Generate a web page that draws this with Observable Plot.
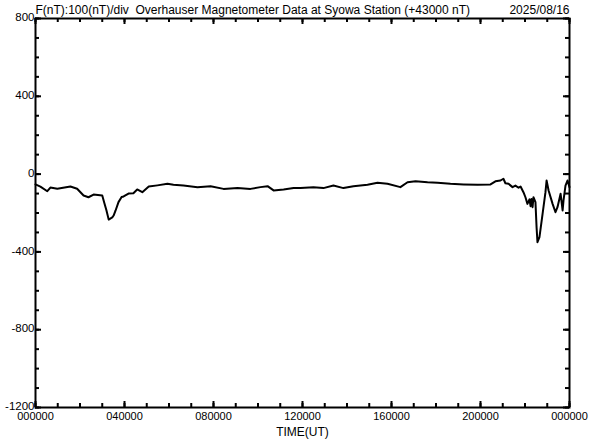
<!DOCTYPE html>
<html>
<head>
<meta charset="utf-8">
<script src="https://cdn.jsdelivr.net/npm/d3@7"></script>
<script src="https://cdn.jsdelivr.net/npm/@observablehq/plot@0.6"></script>
<style>
  html, body { margin: 0; padding: 0; background: #fff; }
  #chart svg { display: block; }
</style>
</head>
<body>
<div id="chart"></div>
<script>
// Time in hours UT
const hours = [
  0, 0.22, 0.53, 0.67, 0.98, 1.57, 1.87, 2.16, 2.38, 2.61, 3.00, 3.10, 3.19, 3.29, 3.45, 3.51,
  3.60, 3.73, 3.87, 3.96, 4.18, 4.40, 4.57, 4.80, 5.09, 5.48, 5.93, 6.20, 6.65, 7.28, 7.87,
  8.45, 9.08, 9.66, 10.11, 10.43, 10.70, 11.15, 11.60, 11.91, 12.49, 12.94, 13.39, 13.84,
  14.29, 14.92, 15.37, 15.82, 16.40, 16.72, 17.08, 17.62, 18.07, 18.65, 19.24, 19.87, 20.45,
  20.67, 20.90, 21.03, 21.12, 21.26, 21.44, 21.57, 21.71, 21.80, 21.93, 22.02, 22.11, 22.20,
  22.25, 22.29, 22.34, 22.38, 22.47, 22.52, 22.56, 22.65, 22.79, 22.92, 22.97, 23.06, 23.24,
  23.37, 23.46, 23.60, 23.69, 23.73, 23.82, 23.91, 24.0
];
// F - 43000 nT
const fValues = [
  -53, -64, -88, -69, -75, -64, -75, -110, -119, -105, -110, -151, -187, -234, -223, -213,
  -187, -144, -118, -115, -100, -98, -79, -93, -64, -58, -50, -55, -59, -67, -62,
  -76, -72, -76, -67, -62, -84, -79, -72, -72, -67, -72, -59, -72,
  -62, -55, -45, -50, -67, -42, -37, -42, -45, -50, -53, -55, -53,
  -37, -33, -24, -47, -50, -67, -59, -70, -64, -93, -119, -153, -130,
  -165, -128, -170, -119, -144, -273, -350, -324, -204, -93, -33, -84, -153,
  -196, -170, -101, -187, -136, -59, -33, -67
];

const yTickValues = [800, 400, 0, -400, -800, -1200];
const yMinorTicks = d3.range(-1200, 801, 100);
const xTickValues = [0, 4, 8, 12, 16, 20, 24];
const xTickLabels = ["000000", "040000", "080000", "120000", "160000", "200000", "000000"];
const xMinorTicks = d3.range(0, 25, 1);

const titleText = "F(nT):100(nT)/div  Overhauser Magnetometer Data at Syowa Station (+43000 nT)";
const dateText = "2025/08/16";
const xAxisTitle = "TIME(UT)";

const data = hours.map((h, i) => ({h, v: fValues[i]}));

const W = 592, H = 440;
const mL = 35, mR = 23, mT = 18, mB = 33;
const innerW = W - mL - mR, innerH = H - mT - mB;

const chart = Plot.plot({
  width: W,
  height: H,
  marginLeft: mL,
  marginRight: mR,
  marginTop: mT,
  marginBottom: mB,
  style: {fontFamily: "'Liberation Sans', Arial, sans-serif", fontSize: "11px", color: "#000", background: "#fff"},
  x: {domain: [0, 24]},
  y: {domain: [-1200, 800]},
  marks: [
    // inward ticks: bottom & top
    Plot.tickX(xMinorTicks, {x: d => d, stroke: "#000", strokeWidth: 2, insetTop: innerH - 4}),
    Plot.tickX(xTickValues, {x: d => d, stroke: "#000", strokeWidth: 2, insetTop: innerH - 6}),
    Plot.tickX(xMinorTicks, {x: d => d, stroke: "#000", strokeWidth: 2, insetBottom: innerH - 4}),
    Plot.tickX(xTickValues, {x: d => d, stroke: "#000", strokeWidth: 2, insetBottom: innerH - 6}),
    // inward ticks: left & right
    Plot.tickY(yMinorTicks, {y: d => d, stroke: "#000", strokeWidth: 2, insetRight: innerW - 4}),
    Plot.tickY(yTickValues, {y: d => d, stroke: "#000", strokeWidth: 2, insetRight: innerW - 6}),
    Plot.tickY(yMinorTicks, {y: d => d, stroke: "#000", strokeWidth: 2, insetLeft: innerW - 4}),
    Plot.tickY(yTickValues, {y: d => d, stroke: "#000", strokeWidth: 2, insetLeft: innerW - 6}),
    // axis labels
    Plot.axisY({ticks: yTickValues, tickSize: 0, tickPadding: 1, dy: -1, label: null, fontSize: 11.5,
      tickFormat: d => String(d)}),
    Plot.axisX({ticks: xTickValues, tickSize: 0, tickPadding: 5, label: null, fontSize: 11,
      tickFormat: d => xTickLabels[xTickValues.indexOf(d)]}),
    Plot.text([xAxisTitle], {frameAnchor: "bottom", dy: 28, lineAnchor: "bottom", fontSize: 12, text: d => d}),
    // data line
    Plot.line(data, {x: "h", y: "v", stroke: "#000", strokeWidth: 2, strokeLinejoin: "round"}),
    Plot.frame({stroke: "#000", strokeWidth: 2}),
    // title & date
    Plot.text([titleText], {frameAnchor: "top-left", textAnchor: "start", lineAnchor: "bottom", dy: -5, fontSize: 12, text: d => d}),
    Plot.text([dateText], {frameAnchor: "top-right", textAnchor: "end", lineAnchor: "bottom", dy: -5, fontSize: 12, text: d => d})
  ]
});
document.getElementById("chart").appendChild(chart);
</script>
</body>
</html>
